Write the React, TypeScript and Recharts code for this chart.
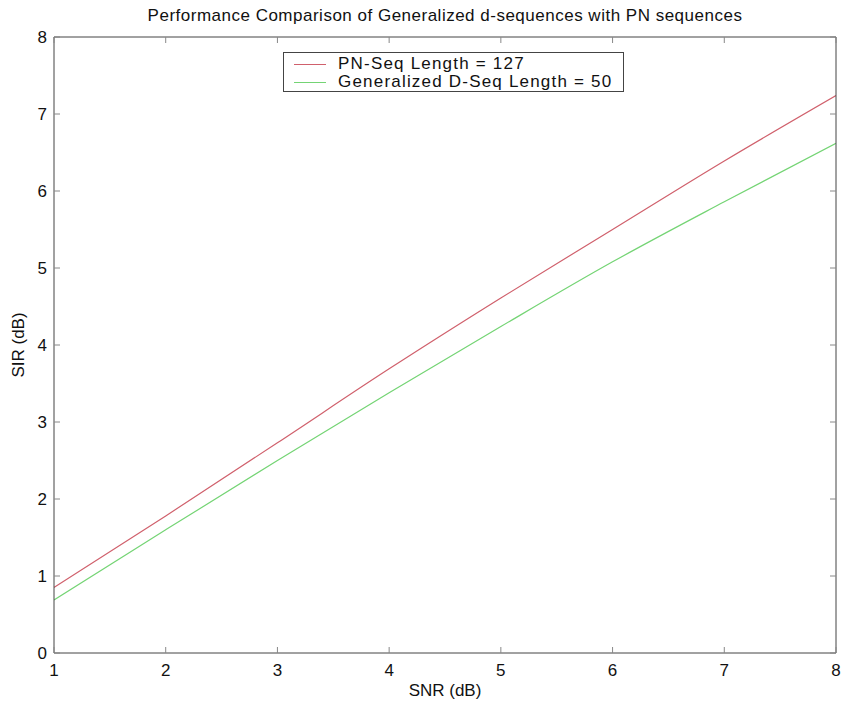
import { LineChart, Line, XAxis, YAxis, Label } from 'recharts'

// SNR (dB) sample points
const snr = [1, 2, 3, 4, 5, 6, 7, 8]
// SIR (dB) for each sequence type
const pnSeq127 = [0.85, 1.78, 2.73, 3.69, 4.61, 5.5, 6.39, 7.24]
const genDSeq50 = [0.69, 1.6, 2.5, 3.38, 4.24, 5.08, 5.86, 6.62]

const xTicks = [1, 2, 3, 4, 5, 6, 7, 8]
const yTicks = [0, 1, 2, 3, 4, 5, 6, 7, 8]

const RED = '#d0606c'
const GREEN = '#74d474'
const FONT = '"Liberation Sans", Arial, sans-serif'
const FS = 17
const TICK_LEN = 6
const MARGIN = 10

const data = snr.map((x, i) => ({ snr: x, pn: pnSeq127[i], gd: genDSeq50[i] }))

// ticks drawn inside the box, like matlab
function BottomTick(props: any) {
  const { x, y, payload } = props
  const ay = y - MARGIN
  return (
    <g>
      <line x1={x} x2={x} y1={ay} y2={ay - TICK_LEN} stroke="#888" />
      <text x={x} y={ay + 23} textAnchor="middle" fontSize={FS} fontFamily={FONT} fill="#111">
        {payload.value}
      </text>
    </g>
  )
}

function LeftTick(props: any) {
  const { x, y, payload } = props
  const ax = x + MARGIN
  return (
    <g>
      <line x1={ax} x2={ax + TICK_LEN} y1={y} y2={y} stroke="#888" />
      <text x={ax - 7} y={y + 6} textAnchor="end" fontSize={FS} fontFamily={FONT} fill="#111">
        {payload.value}
      </text>
    </g>
  )
}

function TopTick(props: any) {
  const { x, y } = props
  const ay = y + MARGIN
  return <line x1={x} x2={x} y1={ay} y2={ay + TICK_LEN} stroke="#888" />
}

function RightTick(props: any) {
  const { x, y } = props
  const ax = x - MARGIN
  return <line x1={ax} x2={ax - TICK_LEN} y1={y} y2={y} stroke="#888" />
}

function LegendBox() {
  const row = (color: string, text: string) => (
    <div style={{ display: 'flex', alignItems: 'center', height: 18 }}>
      <div style={{ width: 32, height: 0, borderTop: `1px solid ${color}`, marginLeft: 10, marginRight: 12 }} />
      <span>{text}</span>
    </div>
  )
  return (
    <div
      style={{
        position: 'absolute',
        left: 283,
        top: 52,
        width: 339,
        height: 36,
        border: '1px solid #444',
        background: '#fff',
        fontFamily: FONT,
        fontSize: FS,
        letterSpacing: 1.2,
        color: '#111',
        paddingTop: 2,
        boxSizing: 'content-box',
        lineHeight: '18px',
      }}
    >
      {row(RED, 'PN-Seq Length = 127')}
      {row(GREEN, 'Generalized D-Seq Length = 50')}
    </div>
  )
}

export default function App() {
  return (
    <div style={{ position: 'absolute', left: 0, top: 0, width: 843, height: 706, background: '#fff' }}>
      <div
        style={{
          position: 'absolute',
          top: 6,
          left: 54,
          width: 782,
          textAlign: 'center',
          fontFamily: FONT,
          fontSize: FS,
          letterSpacing: 0.5,
          color: '#111',
        }}
      >
        Performance Comparison of Generalized d-sequences with PN sequences
      </div>
      <LineChart
        width={843}
        height={706}
        data={data}
        margin={{ top: 36, right: 6, bottom: 23, left: 24 }}
        style={{ fontFamily: FONT }}
      >
        <XAxis
          dataKey="snr"
          type="number"
          domain={[1, 8]}
          ticks={xTicks}
          height={30}
          tickSize={0}
          tickMargin={MARGIN}
          stroke="#444"
          tickLine={false}
          tick={BottomTick}
          allowDataOverflow
        >
          <Label
            content={() => (
              <text x={445} y={696} textAnchor="middle" fontSize={FS} fontFamily={FONT} fill="#111">
                SNR (dB)
              </text>
            )}
          />
        </XAxis>
        <XAxis
          xAxisId="top"
          orientation="top"
          dataKey="snr"
          type="number"
          domain={[1, 8]}
          ticks={xTicks}
          height={1}
          tickSize={0}
          tickMargin={MARGIN}
          stroke="#444"
          tickLine={false}
          tick={TopTick}
          allowDataOverflow
        />
        <YAxis
          type="number"
          domain={[0, 8]}
          ticks={yTicks}
          width={30}
          tickSize={0}
          tickMargin={MARGIN}
          stroke="#444"
          tickLine={false}
          tick={LeftTick}
          allowDataOverflow
        >
          <Label
            content={() => (
              <text
                x={24}
                y={345}
                transform="rotate(-90 24 345)"
                textAnchor="middle"
                fontSize={FS}
                fontFamily={FONT}
                fill="#111"
              >
                SIR (dB)
              </text>
            )}
          />
        </YAxis>
        <YAxis
          yAxisId="right"
          orientation="right"
          type="number"
          domain={[0, 8]}
          ticks={yTicks}
          width={1}
          tickSize={0}
          tickMargin={MARGIN}
          stroke="#444"
          tickLine={false}
          tick={RightTick}
          allowDataOverflow
        />
        {/* same domains on both axis pairs, so the top/right pair gets used and drawn */}
        <Line
          xAxisId="top"
          yAxisId="right"
          dataKey="pn"
          name="PN-Seq Length = 127"
          type="monotone"
          stroke={RED}
          strokeWidth={1.2}
          dot={false}
          isAnimationActive={false}
        />
        <Line
          dataKey="gd"
          name="Generalized D-Seq Length = 50"
          type="monotone"
          stroke={GREEN}
          strokeWidth={1.2}
          dot={false}
          isAnimationActive={false}
        />
      </LineChart>
      <LegendBox />
    </div>
  )
}
